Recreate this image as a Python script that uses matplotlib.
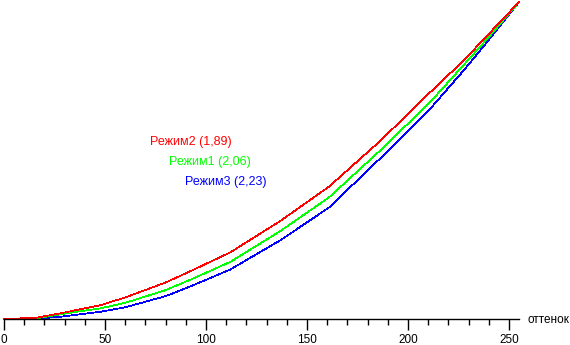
import matplotlib
matplotlib.use("Agg")
import matplotlib.pyplot as plt
from matplotlib.ticker import MultipleLocator

# gray level (0..255) vs normalized brightness for each mode
levels = [0, 16, 28, 48, 60, 80, 92, 112, 137, 161, 186, 211, 228, 240, 255]
mode2 = [0, .004, .018, .044, .068, .115, .150, .210, .310, .418, .560, .715, .818, .899, 1]
mode1 = [0, .002, .015, .034, .051, .091, .123, .180, .278, .384, .530, .684, .804, .889, 1]
mode3 = [0, .001, .007, .023, .037, .072, .102, .156, .249, .352, .505, .663, .787, .880, 1]

names = ["Режим2 (1,89)", "Режим1 (2,06)", "Режим3 (2,23)"]
colors = ["#ff0000", "#00ff00", "#0000ff"]

plt.rcParams['font.family'] = ['Liberation Sans', 'DejaVu Sans']

fig = plt.figure(figsize=(5.7, 3.45), dpi=100)
ax = fig.add_axes([4 / 570, 26 / 345, 515 / 570, 317 / 345])

for ys, c in zip([mode3, mode1, mode2], [colors[2], colors[1], colors[0]]):
    ax.plot(levels, ys, color=c, lw=0.5, clip_on=False, antialiased=False)

ax.set_xlim(0, 255)
ax.set_ylim(0, 1)

for side in ("top", "right", "left"):
    ax.spines[side].set_visible(False)
ax.spines["bottom"].set_linewidth(1.0)
ax.set_yticks([])

ax.xaxis.set_major_locator(MultipleLocator(50))
ax.xaxis.set_minor_locator(MultipleLocator(10))
ax.tick_params(axis="x", which="major", length=8, width=1, pad=3, labelsize=8.5)
ax.tick_params(axis="x", which="minor", length=4.3, width=1)

fig.text(527 / 570, 1 - 320 / 345, "оттенок", fontsize=8.5, ha="left", va="center")

# mode labels with gamma values
label_pos = [(150, 141.5), (169, 161.5), (185, 181.5)]
for name, c, (px, py) in zip(names, colors, label_pos):
    fig.text(px / 570, 1 - py / 345, name, color=c, fontsize=9, ha="left", va="center")

fig.savefig("out.png", dpi=100)
